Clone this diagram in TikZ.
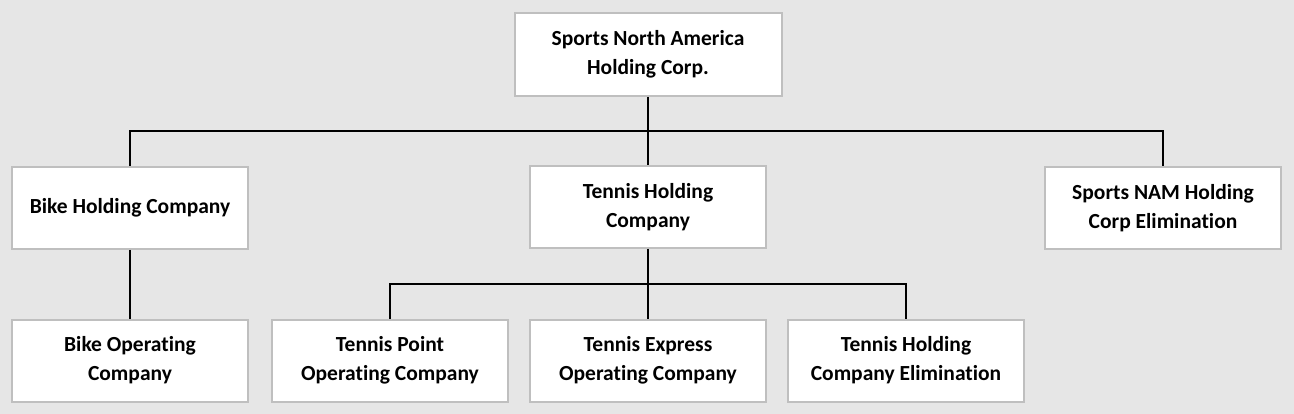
\documentclass[tikz,border=0pt]{standalone}
\usepackage{fontspec}
\setmainfont{Carlito}[Ligatures={NoCommon}]
\usepackage{xcolor}
\usetikzlibrary{positioning}
\definecolor{bggray}{HTML}{E6E6E6}
\definecolor{boxline}{HTML}{BFBFBF}
\tikzset{
	unit/.style={draw=boxline, line width=2pt, fill=white, align=center,
		minimum width=236pt, minimum height=82pt, inner sep=0pt,
		font=\fontsize{21.5}{29}\selectfont\bfseries},
	link/.style={draw=black, line width=2pt}
}

\begin{document}
\begin{tikzpicture}[x=1pt, y=-1pt]
	\fill[bggray] (0,0) rectangle (1294,414);
	\useasboundingbox (0,0) rectangle (1294,414);
	\node[unit, minimum width=267pt, minimum height=83pt] (snahc) at (648,54.5) {Sports North America\\Holding Corp.};
	\node[unit] (bikehc) at (130,208) {Bike Holding Company};
	\node[unit] (tennishc) at (648,207) {Tennis Holding\\Company};
	\node[unit] (namelim) at (1163,208) {Sports NAM Holding\\Corp Elimination};
	\node[unit] (bikeoc) at (130,360.5) {Bike Operating\\Company};
	\node[unit] (tpoc) at (390,360.5) {Tennis Point\\Operating Company};
	\node[unit] (teoc) at (648,360.5) {Tennis Express\\Operating Company};
	\node[unit] (thelim) at (906,360.5) {Tennis Holding\\Company Elimination};
	\coordinate (busA) at (648,131);
	\coordinate (busB) at (648,284);
	\draw[link] (snahc.south) -- (busA);
	\draw[link] (bikehc.north) |- (busA) -| (namelim.north);
	\draw[link] (busA) -- (tennishc.north);
	\draw[link] (bikehc.south) -- (bikeoc.north);
	\draw[link] (tennishc.south) -- (busB);
	\draw[link] (tpoc.north) |- (busB) -| (thelim.north);
	\draw[link] (busB) -- (teoc.north);
\end{tikzpicture}
\end{document}
